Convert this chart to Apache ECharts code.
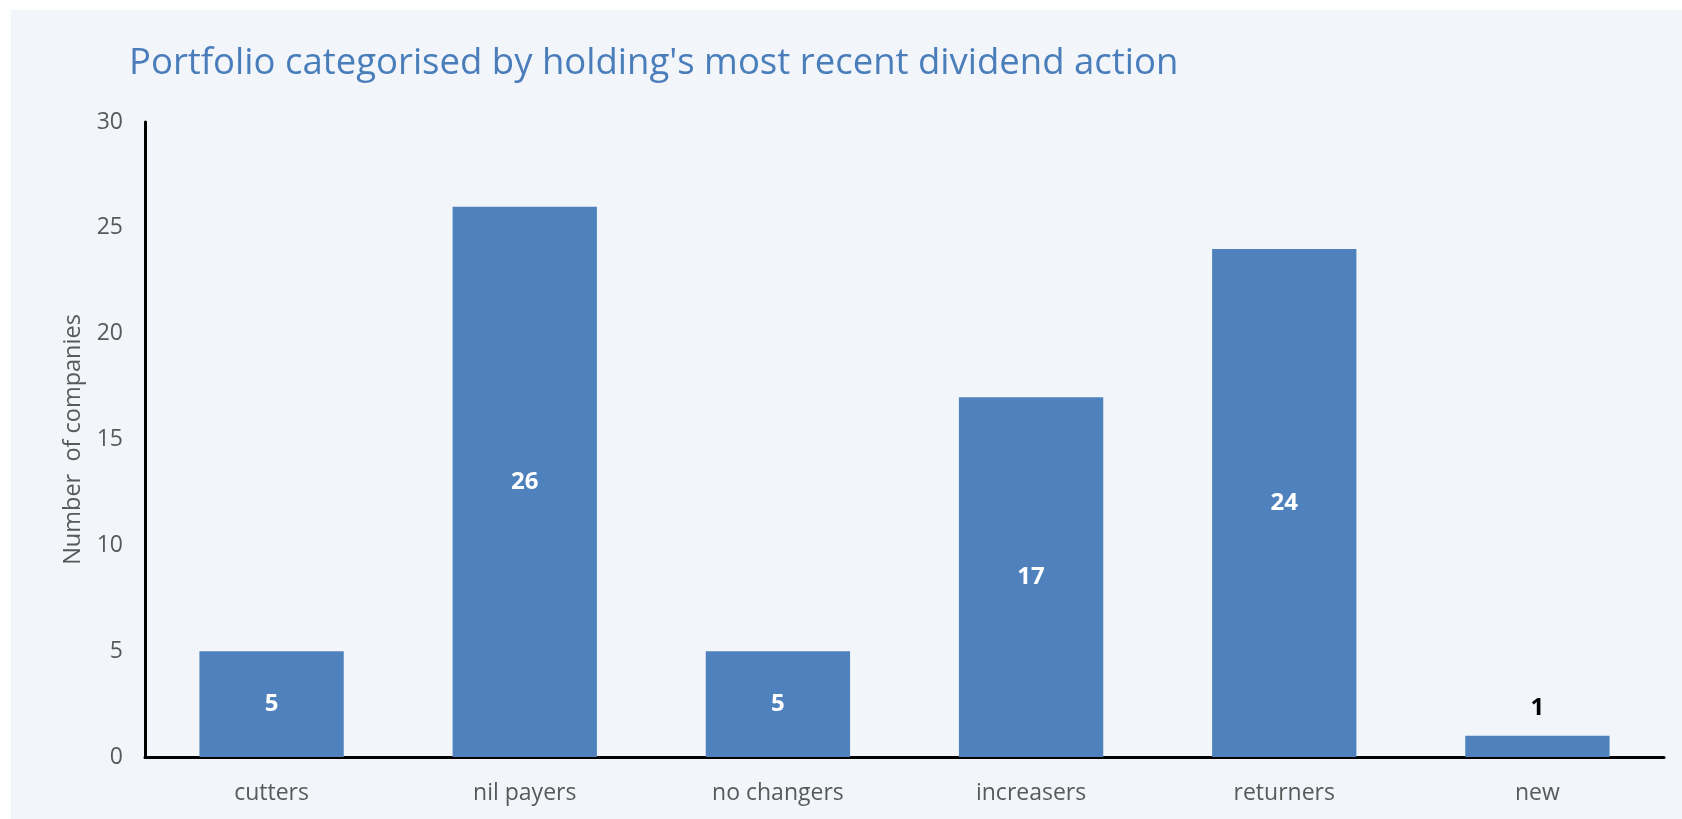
<!DOCTYPE html>
<html>
<head>
<meta charset="utf-8">
<script src="https://cdn.jsdelivr.net/npm/echarts@6/dist/echarts.min.js"></script>
<style>
  html, body { margin: 0; padding: 0; background: #ffffff; }
  #panel { position: absolute; left: 11px; top: 10px; width: 1671px; height: 809px; background: #F2F5FA; }
  #main { position: absolute; left: 0; top: 0; width: 1682px; height: 819px; }
</style>
</head>
<body>
<div id="panel"></div>
<div id="main"></div>
<script>
// categories and counts
const categories = ['cutters', 'nil payers', 'no changers', 'increasers', 'returners', 'new'];
const counts = [5, 26, 5, 17, 24, 1];
const yTicks = [0, 5, 10, 15, 20, 25, 30];

const chart = echarts.init(document.getElementById('main'), null, { renderer: 'canvas' });

const FONT = '"Open Sans", "Noto Sans", sans-serif';

// small bars can't hold the label inside, so put it on top in black
const barData = counts.map(v => {
  if (v < 3) {
    return {
      value: v,
      label: { position: 'top', distance: 16, color: '#000000' }
    };
  }
  return v;
});

const option = {
  backgroundColor: 'transparent',
  animation: false,
  title: {
    text: "Portfolio categorised by holding's most recent dividend action",
    left: 124,
    top: 40,
    textStyle: {
      fontFamily: FONT,
      fontSize: 36.5,
      fontWeight: 'normal',
      color: '#4A7EBB'
    }
  },
  grid: {
    left: 145,
    right: 18,
    top: 122,
    bottom: 62
  },
  xAxis: {
    type: 'category',
    data: categories,
    axisLine: { lineStyle: { color: '#000000', width: 3 } },
    axisTick: { show: false },
    axisLabel: {
      fontFamily: FONT,
      fontSize: 23,
      color: '#595959',
      margin: 25
    }
  },
  yAxis: {
    type: 'value',
    min: yTicks[0],
    max: yTicks[yTicks.length - 1],
    interval: 5,
    name: 'Number  of companies',
    nameLocation: 'middle',
    nameGap: 60,
    nameTextStyle: {
      fontFamily: FONT,
      fontSize: 23.5,
      color: '#595959'
    },
    axisLine: { show: true, lineStyle: { color: '#000000', width: 3 } },
    axisTick: { show: false },
    splitLine: { show: false },
    axisLabel: {
      fontFamily: FONT,
      fontSize: 23,
      color: '#595959',
      margin: 22
    }
  },
  series: [
    {
      type: 'bar',
      data: barData,
      barWidth: '57%',
      itemStyle: { color: '#4F81BD' },
      label: {
        show: true,
        position: 'inside',
        fontFamily: FONT,
        fontSize: 24,
        fontWeight: 'bold',
        color: '#ffffff'
      }
    }
  ]
};

chart.setOption(option);
</script>
</body>
</html>
